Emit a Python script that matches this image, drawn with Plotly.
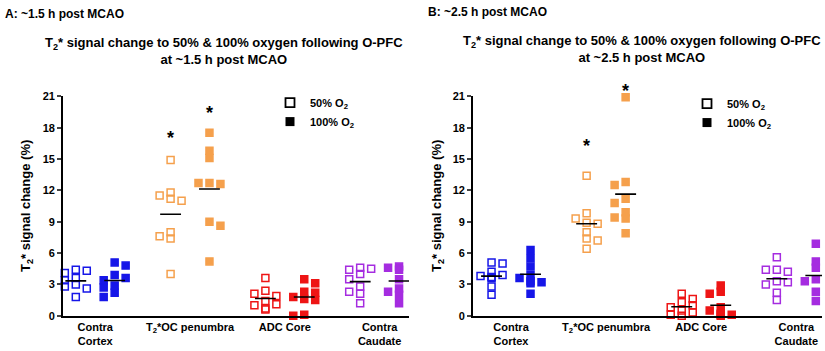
import numpy as np
import plotly.graph_objects as go

# ---------------- data ----------------
regions = ["Contra<br>Cortex", "T<sub>2</sub>*OC penumbra", "ADC Core", "Contra<br>Caudate"]
y_ticks = [0, 3, 6, 9, 12, 15, 18, 21]
colors = ["#1616e8", "#f5a04c", "#ee1515", "#a52ce0"]

# Panel A: ~1.5 h post MCAO
a_50 = [
    [4.4, 4.3, 4.1, 3.6, 3.0, 2.8, 2.6, 1.8, 3.4],
    [14.9, 11.8, 11.5, 11.0, 11.2, 8.0, 7.6, 7.4, 4.0],
    [3.6, 2.4, 2.1, 1.9, 1.4, 1.1, 1.0, 0.7, 0.6],
    [4.6, 4.5, 4.4, 4.0, 3.5, 2.8, 2.3, 2.1, 1.2],
]
a_100 = [
    [5.1, 4.8, 3.9, 3.6, 3.4, 2.9, 2.7, 2.2, 1.8],
    [17.5, 15.8, 15.1, 12.7, 12.6, 12.7, 9.0, 8.6, 5.2],
    [3.5, 3.1, 2.3, 2.2, 1.8, 1.6, 1.5, 0.1, 0.0],
    [4.7, 4.6, 4.6, 4.4, 3.5, 2.6, 2.3, 2.0, 1.2],
]
a_star = [17.4, 19.8]  # asterisk heights for T2*OC penumbra 50% / 100%

# Panel B: ~2.5 h post MCAO
b_50 = [
    [5.1, 5.0, 4.2, 3.9, 3.8, 3.6, 3.7, 2.8, 2.0],
    [13.4, 9.8, 9.3, 8.9, 8.8, 8.0, 7.4, 7.2, 6.4],
    [2.1, 1.6, 1.3, 1.0, 0.8, 0.5, 0.3, 0.1, 0.0],
    [5.6, 4.4, 4.4, 4.2, 3.3, 3.2, 3.0, 2.2, 1.5],
]
b_100 = [
    [6.3, 5.5, 4.7, 3.9, 3.6, 3.3, 3.2, 3.1, 2.1],
    [20.9, 12.8, 12.5, 11.2, 10.8, 9.9, 9.4, 9.3, 7.9],
    [2.9, 2.3, 2.1, 0.8, 0.5, 0.2, 0.1, 0.1, 0.0],
    [6.9, 5.2, 4.6, 4.1, 3.4, 3.5, 3.3, 2.3, 1.4],
]
b_star = [16.6, 21.9]

FONT = "Arial, Liberation Sans, sans-serif"
W, H = 825, 351
Y_MAX = 21
PX_X = 95.0    # px per category unit
PX_Y = 10.82   # px per y unit
MK = 7         # marker size px
OFF = 0.205    # 50%/100% offset from group centre


def swarm(vals):
    """simple beeswarm: small offsets (x units) so markers only partly overlap"""
    order = np.argsort(vals)[::-1]
    placed = []
    offs = np.zeros(len(vals))
    step = 5.5 / PX_X
    thr = 6.0
    for n, i in enumerate(order):
        v = vals[i]
        pref = [0, -1, 1, -2, 2, -3, 3] if n % 2 == 0 else [0, 1, -1, 2, -2, 3, -3]
        chosen = 0.0
        for c in pref:
            o = c * step
            if all(not (abs(po - o) * PX_X < thr and abs(pv - v) * PX_Y < thr) for po, pv in placed):
                chosen = o
                break
        offs[i] = chosen
        placed.append((chosen, v))
    return offs


fig = go.Figure()
ann = []


def add_panel(d50, d100, stars, xa, ya, legend_name):
    for gi in range(4):
        for dset, filled in [(d50, False), (d100, True)]:
            vals = np.array(dset[gi], dtype=float)
            centre = gi + (OFF if filled else -OFF)
            xs = centre + swarm(vals)
            fig.add_trace(go.Scatter(
                x=xs, y=vals, mode="markers", xaxis=xa, yaxis=ya, showlegend=False,
                cliponaxis=False,
                marker=dict(symbol="square" if filled else "square-open", size=MK,
                            color=colors[gi], line=dict(width=1.5, color=colors[gi])),
            ))
            m = float(np.mean(vals))
            fig.add_trace(go.Scatter(
                x=[centre - 0.11, centre + 0.11], y=[m, m], mode="lines",
                xaxis=xa, yaxis=ya, showlegend=False, cliponaxis=False,
                line=dict(color="black", width=1.6),
            ))
    # significance asterisks (domain-referenced so the one above the axis top is still drawn)
    for k, s in enumerate(stars):
        ann.append(dict(text="*", x=1 + (-OFF if k == 0 else OFF), y=s / Y_MAX,
                        xref=xa, yref=ya + " domain", xanchor="center", yanchor="middle",
                        yshift=-4, showarrow=False,
                        font=dict(family=FONT, size=18, color="black", weight="bold")))
    # legend entries
    fig.add_trace(go.Scatter(x=[None], y=[None], mode="markers", xaxis=xa, yaxis=ya,
                             name="50% O<sub>2</sub>", legend=legend_name,
                             marker=dict(symbol="square-open", size=9, color="black",
                                         line=dict(width=1.8, color="black"))))
    fig.add_trace(go.Scatter(x=[None], y=[None], mode="markers", xaxis=xa, yaxis=ya,
                             name="100% O<sub>2</sub>", legend=legend_name,
                             marker=dict(symbol="square", size=9, color="black")))


add_panel(a_50, a_100, a_star, "x", "y", "legend")
add_panel(b_50, b_100, b_star, "x2", "y2", "legend2")

y_bot = (H - 320.7) / H
y_top = (H - 93.5) / H

axis_common_y = dict(range=[0, Y_MAX], tickvals=y_ticks, ticks="outside", ticklen=4, tickwidth=1.8,
                     showline=True, linecolor="black", linewidth=1.8, showgrid=False, zeroline=False,
                     tickfont=dict(family=FONT, size=11, color="black", weight="bold"),
                     domain=[y_bot, y_top])
axis_common_x = dict(tickvals=[0, 1, 2, 3], ticktext=regions, ticks="", showline=True,
                     linecolor="black", linewidth=1.8, showgrid=False, zeroline=False,
                     tickfont=dict(family=FONT, size=11, color="black", weight="bold"))

fig.update_layout(
    width=W, height=H, margin=dict(l=0, r=0, t=0, b=0),
    paper_bgcolor="white", plot_bgcolor="white",
    font=dict(family=FONT, color="black"),
    xaxis=dict(axis_common_x, domain=[63 / W, 409 / W], range=[-0.34, 3.31], anchor="y"),
    yaxis=dict(axis_common_y, anchor="x"),
    xaxis2=dict(axis_common_x, domain=[473 / W, 822 / W], range=[-0.40, 3.27], anchor="y2"),
    yaxis2=dict(axis_common_y, anchor="x2"),
    legend=dict(x=270 / W, y=(H - 85) / H, xanchor="left", yanchor="top",
                font=dict(family=FONT, size=11, color="black", weight="bold"),
                bgcolor="rgba(0,0,0,0)", itemwidth=30, tracegroupgap=0),
    legend2=dict(x=687 / W, y=(H - 86) / H, xanchor="left", yanchor="top",
                 font=dict(family=FONT, size=11, color="black", weight="bold"),
                 bgcolor="rgba(0,0,0,0)", itemwidth=30, tracegroupgap=0),
)

bold = dict(family=FONT, size=12, color="black", weight="bold")
bold13 = dict(family=FONT, size=13, color="black", weight="bold")
ann.append(dict(text="A: ~1.5 h post MCAO", x=3 / W, y=(H + 1) / H, xref="paper", yref="paper",
                xanchor="left", yanchor="top", showarrow=False, font=bold))
ann.append(dict(text="B: ~2.5 h post MCAO", x=426 / W, y=(H + 3) / H, xref="paper", yref="paper",
                xanchor="left", yanchor="top", showarrow=False, font=bold))
ann.append(dict(text="T<sub>2</sub>* signal change to 50% & 100% oxygen following O-PFC<br>at ~1.5 h post MCAO",
                x=224 / W, y=(H - 28) / H, xref="paper", yref="paper", xanchor="center", yanchor="top",
                showarrow=False, font=bold13))
ann.append(dict(text="T<sub>2</sub>* signal change to 50% & 100% oxygen following O-PFC<br>at ~2.5 h post MCAO",
                x=642 / W, y=(H - 26) / H, xref="paper", yref="paper", xanchor="center", yanchor="top",
                showarrow=False, font=bold13))
for xc in [27, 438]:
    ann.append(dict(text="T<sub>2</sub>* signal change (%)", x=xc / W, y=(H - 207) / H,
                    xref="paper", yref="paper", xanchor="center", yanchor="middle",
                    textangle=-90, showarrow=False, font=bold13))
fig.update_layout(annotations=ann)

fig.write_html("out.html", config={"displayModeBar": False},
               post_script="document.body.style.margin='0px';")
